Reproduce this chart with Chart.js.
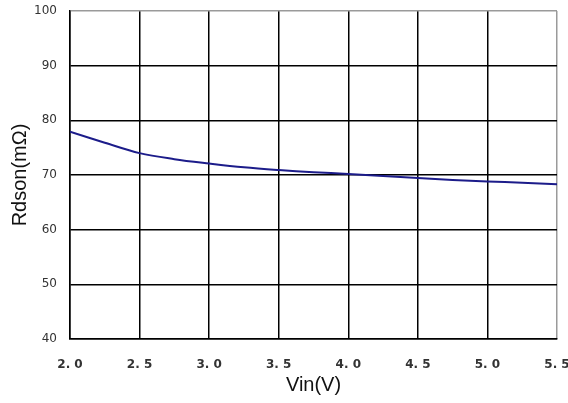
<!DOCTYPE html>
<html>
<head>
<meta charset="utf-8">
<script src="https://cdn.jsdelivr.net/npm/chart.js@4"></script>
<style>
html,body{margin:0;padding:0;background:#fff;}
#wrap{width:568px;height:403px;position:relative;}
</style>
</head>
<body>
<div id="wrap"><canvas id="c" width="568" height="403"></canvas></div>
<script>
const vin = [2.0, 2.25, 2.5, 2.75, 3.0, 3.25, 3.5, 3.75, 4.0, 4.25, 4.5, 4.75, 5.0, 5.25, 5.5];
const rdson = [77.9, 75.9, 74.0, 72.9, 72.1, 71.4, 70.9, 70.5, 70.2, 69.8, 69.45, 69.1, 68.8, 68.6, 68.3];
const xTicks = [2.0, 2.5, 3.0, 3.5, 4.0, 4.5, 5.0, 5.5];
const xTickLabels = ["2. 0", "2. 5", "3. 0", "3. 5", "4. 0", "4. 5", "5. 0", "5. 5"];
const yTicks = [40, 50, 60, 70, 80, 90, 100];

const pts = vin.map((v, i) => ({x: v, y: rdson[i]}));

new Chart(document.getElementById('c'), {
  type: 'line',
  data: {
    datasets: [{
      data: pts,
      borderColor: '#1c1c8a',
      borderWidth: 2,
      pointRadius: 0,
      tension: 0.35,
      fill: false
    }]
  },
  options: {
    responsive: false,
    animation: false,
    layout: {padding: {top: 11, right: 11, left: 0, bottom: 0}},
    plugins: {legend: {display: false}, tooltip: {enabled: false}},
    scales: {
      x: {
        type: 'linear',
        min: 2.0, max: 5.5,
        afterBuildTicks: s => { s.ticks = xTicks.map(v => ({value: v})); },
        afterFit: s => { s.height = 64; s.paddingLeft = 0; s.paddingRight = 0; },
        grid: {
          color: ctx => (ctx.tick && ctx.tick.value === 5.5) ? '#9a9a9a' : '#000',
          lineWidth: 1.5,
          drawTicks: false
        },
        border: {color: '#000', width: 1.5},
        ticks: {
          padding: 19,
          color: '#333',
          font: {family: 'DejaVu Sans', size: 12, weight: 'bold'},
          maxRotation: 0,
          callback: (v) => { const i = xTicks.indexOf(v); return i >= 0 ? xTickLabels[i] : ''; }
        },
        title: {
          display: true, text: 'Vin(V)', color: '#111',
          font: {family: 'Liberation Sans', size: 20},
          padding: {top: 0, bottom: 6}
        }
      },
      y: {
        min: 40, max: 100,
        afterBuildTicks: s => { s.ticks = yTicks.map(v => ({value: v})); },
        afterFit: s => { s.width = 70; s.paddingTop = 0; s.paddingBottom = 0; },
        grid: {
          color: ctx => (ctx.tick && ctx.tick.value === 100) ? '#9a9a9a' : '#000',
          lineWidth: 1.5,
          drawTicks: false
        },
        border: {color: '#000', width: 1.5},
        ticks: {
          padding: 13,
          color: '#333',
          font: {family: 'DejaVu Sans', size: 12}
        },
        title: {
          display: true, text: 'Rdson(mΩ)', color: '#111',
          font: {family: 'Liberation Sans', size: 20},
          padding: {top: 8, bottom: 0}
        }
      }
    }
  }
});
</script>
</body>
</html>
